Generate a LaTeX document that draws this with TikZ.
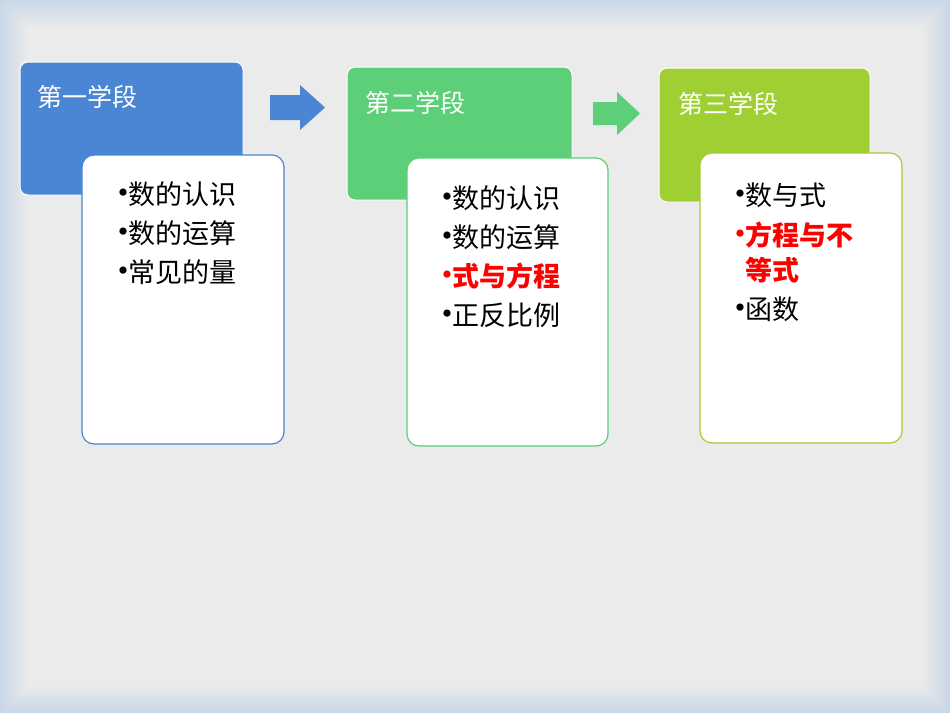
\documentclass[tikz,border=0pt]{standalone}
\usepackage{fontspec}
\setmainfont{Noto Sans CJK SC}
\newcommand{\bul}[1]{\makebox[22pt][l]{\raisebox{-1pt}{\fontsize{34}{20}\selectfont •}}#1}
\begin{document}
\begin{tikzpicture}[x=1pt,y=-1pt,
  hdr/.style={rounded corners=8pt,draw=white,line width=1pt},
  body/.style={rounded corners=12pt,fill=white,line width=1.2pt},
  ttl/.style={anchor=west,text=white,font=\fontsize{25}{30}\selectfont},
  itm/.style={anchor=north west,align=left,font=\fontsize{27}{39}\selectfont,text width=180pt,inner sep=0pt}]
\definecolor{bA}{HTML}{4A86D4}
\definecolor{gA}{HTML}{5CCF78}
\definecolor{yA}{HTML}{9FCF33}
\definecolor{edge}{HTML}{C9D8E6}
\definecolor{mid}{HTML}{EBEBEB}
\useasboundingbox (0,0) rectangle (950,713);
\fill[edge] (0,0) rectangle (950,713);
\foreach \i in {0,...,11}{
  \pgfmathsetmacro{\p}{\i*100/11}
  \fill[mid!\p!edge] (\i*2.5,\i*2.5) rectangle (950-\i*2.5,713-\i*2.5);}
% box 1
\draw[hdr,fill=bA] (20,62) rectangle (243,195);
\node[ttl] (t1) at (34,97) {第一学段};
\draw[body,draw=bA] (82,155) rectangle (284,444);
\node[itm] (l1) at (106,182) {\bul{数的认识}\\\bul{数的运算}\\\bul{常见的量}};
% arrow 1
\fill[bA] (270,95) -- (300,95) -- (300,85) -- (325,107.5) -- (300,130) -- (300,120) -- (270,120) -- cycle;
% box 2
\draw[hdr,fill=gA] (347,67) rectangle (572,200);
\node[ttl] (t2) at (362,103) {第二学段};
\draw[body,draw=gA] (407,158) rectangle (608,446);
\node[itm] (l2) at (430,186) {\bul{数的认识}\\\bul{数的运算}\\{\color{red}\bul{\bfseries 式与方程}}\\\bul{正反比例}};
% arrow 2
\fill[gA] (593,102) -- (617,102) -- (617,92) -- (640,113.5) -- (617,135) -- (617,125) -- (593,125) -- cycle;
% box 3
\draw[hdr,fill=yA] (659,68) rectangle (870,202);
\node[ttl] (t3) at (675,104) {第三学段};
\draw[body,draw=yA] (700,153) rectangle (902,443);
\node[itm] (l3) at (723,183) {\bul{数与式}\\[1pt]{\color{red}\bul{\bfseries 方程与不}}\\[-4pt]{\color{red}\hspace*{22pt}\bfseries 等式}\\[0pt]\bul{函数}};
\end{tikzpicture}
\end{document}
